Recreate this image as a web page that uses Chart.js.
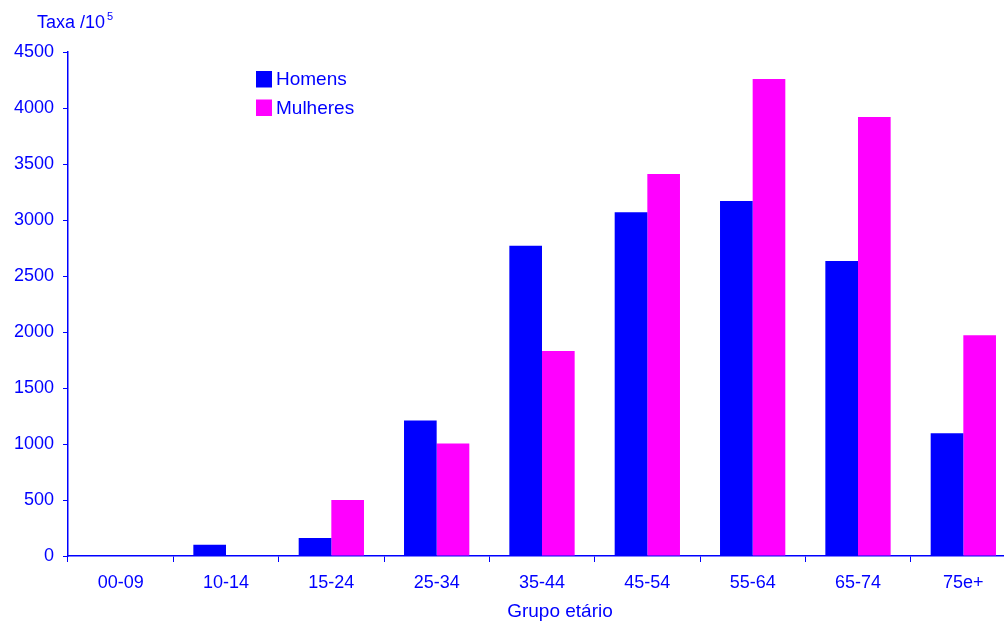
<!DOCTYPE html>
<html>
<head>
<meta charset="utf-8">
<script src="https://cdn.jsdelivr.net/npm/chart.js@4/dist/chart.umd.min.js"></script>
<style>
  html, body { margin: 0; padding: 0; overflow: hidden; background: #fff; }
  #wrap { width: 1020px; height: 624px; }
</style>
</head>
<body>
<div id="wrap"><canvas id="main-chart" width="1020" height="624"></canvas></div>
<script>
const categories = ['00-09', '10-14', '15-24', '25-34', '35-44', '45-54', '55-64', '65-74', '75e+'];
const homens = [0, 100, 160, 1210, 2770, 3070, 3170, 2635, 1095];
const mulheres = [0, 0, 500, 1005, 1830, 3410, 4260, 3920, 1970];
const yTicks = [0, 500, 1000, 1500, 2000, 2500, 3000, 3500, 4000, 4500];

const BLUE = '#0000ff';
const MAGENTA = '#ff00ff';
const FONT = '"Liberation Sans", Arial, sans-serif';

// legend, axis title and "Taxa /10^5" drawn by hand to match the original spots
const extras = {
    id: 'extras',
    afterDraw(chart) {
        const ctx = chart.ctx;
        ctx.save();
        ctx.fillStyle = BLUE;
        ctx.textBaseline = 'alphabetic';
        ctx.font = '18px ' + FONT;
        ctx.fillText('Taxa /10', 37, 28);
        const w = ctx.measureText('Taxa /10').width;
        ctx.font = '11px ' + FONT;
        ctx.fillText('5', 37 + w + 2, 20);

        ctx.font = '19px ' + FONT;
        ctx.textBaseline = 'middle';
        chart.data.datasets.forEach((ds, i) => {
            const y = 71 + i * 28.5;
            ctx.fillStyle = ds.backgroundColor;
            ctx.fillRect(256, y, 16, 16.5);
            ctx.fillStyle = BLUE;
            ctx.fillText(ds.label, 276, y + 9);
        });

        ctx.textAlign = 'center';
        ctx.fillText('Grupo etário', 560, 612);
        ctx.restore();
    }
};

new Chart(document.getElementById('main-chart'), {
    type: 'bar',
    data: {
        labels: categories,
        datasets: [
            { label: 'Homens', data: homens, backgroundColor: BLUE, categoryPercentage: 0.62, barPercentage: 1.0 },
            { label: 'Mulheres', data: mulheres, backgroundColor: MAGENTA, categoryPercentage: 0.62, barPercentage: 1.0 },
        ],
    },
    options: {
        responsive: false,
        animation: false,
        layout: { padding: { top: 52, right: 4, left: 0, bottom: 0 } },
        plugins: {
            legend: { display: false },
            tooltip: { enabled: false },
        },
        scales: {
            x: {
                offset: true,
                grid: { offset: true, drawOnChartArea: false, color: BLUE, tickLength: 6, lineWidth: 1 },
                border: { color: BLUE, width: 1.5 },
                ticks: { color: BLUE, font: { family: FONT, size: 18 }, padding: 10, maxRotation: 0 },
                afterFit(scale) { scale.height = 68; },
            },
            y: {
                min: 0,
                max: 4500,
                afterBuildTicks(scale) { scale.ticks = yTicks.map(v => ({ value: v })); },
                grid: { drawOnChartArea: false, color: BLUE, tickLength: 5 },
                border: { color: BLUE, width: 1.5 },
                ticks: { color: BLUE, font: { family: FONT, size: 18 }, padding: 9, callback: v => String(v) },
                afterFit(scale) { scale.width = 68; },
            },
        },
    },
    plugins: [extras],
});
</script>
</body>
</html>
